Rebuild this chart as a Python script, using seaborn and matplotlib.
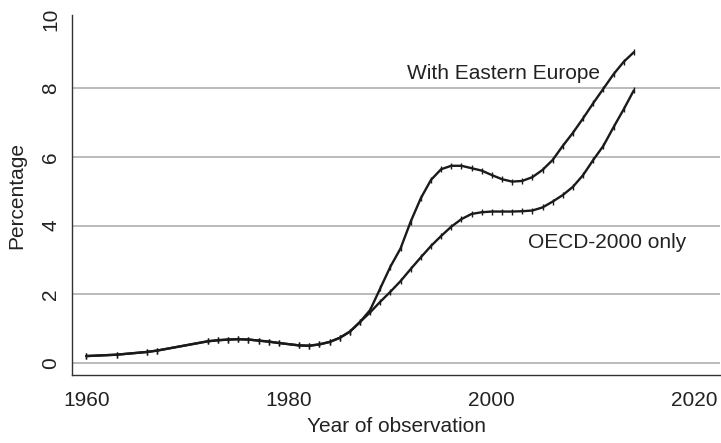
import matplotlib
matplotlib.use("Agg")
import matplotlib.pyplot as plt
import seaborn as sns
import pandas as pd

# ---- data ----
common_years = [1960, 1963, 1966, 1967, 1972, 1973, 1974, 1975, 1976, 1977, 1978,
                1979, 1981, 1982, 1983, 1984, 1985, 1986, 1987]
common_values = [0.21, 0.25, 0.33, 0.37, 0.64, 0.67, 0.69, 0.70, 0.69, 0.66, 0.63,
                 0.59, 0.52, 0.51, 0.55, 0.62, 0.74, 0.92, 1.20]

split_years = list(range(1988, 2015))
eastern_values = [1.55, 2.18, 2.81, 3.34, 4.12, 4.80, 5.33, 5.64, 5.74, 5.74, 5.67,
                  5.60, 5.47, 5.35, 5.28, 5.30, 5.41, 5.62, 5.91, 6.32, 6.70, 7.12,
                  7.56, 7.98, 8.40, 8.76, 9.04]
oecd_values = [1.48, 1.79, 2.08, 2.39, 2.74, 3.08, 3.41, 3.70, 3.97, 4.19, 4.34,
               4.39, 4.41, 4.41, 4.41, 4.42, 4.44, 4.53, 4.70, 4.89, 5.13, 5.47,
               5.91, 6.32, 6.86, 7.38, 7.93]

series_labels = ["With Eastern Europe", "OECD-2000 only"]
x_ticks = [1960, 1980, 2000, 2020]
y_ticks = [0, 2, 4, 6, 8, 10]

df = pd.concat([
    pd.DataFrame({"year": common_years + split_years,
                  "value": common_values + eastern_values,
                  "series": series_labels[0]}),
    pd.DataFrame({"year": common_years + split_years,
                  "value": common_values + oecd_values,
                  "series": series_labels[1]}),
])

sns.set_style("white")
plt.rcParams["font.family"] = ["Liberation Sans", "DejaVu Sans"]

fig = plt.figure(figsize=(7.21, 4.43), dpi=100)
ax = fig.add_axes([0.0999, 0.1535, 0.8987, 0.8125])

sns.lineplot(data=df, x="year", y="value", hue="series",
             palette=["#1a1a1a", "#1a1a1a"], marker="|", markersize=5,
             markeredgewidth=1.0, markeredgecolor="#1a1a1a",
             linewidth=1.7, legend=False, ax=ax, sort=True, estimator=None)

ax.set_xlim(1958.6, 2022.5)
ax.set_ylim(-0.34, 10.12)
ax.set_xticks(x_ticks)
ax.set_yticks(y_ticks)
ax.set_yticklabels([str(v) for v in y_ticks], rotation=90, va="center")

for v in [0, 2, 4, 6, 8]:
    ax.axhline(v, color="#a8a8a8", linewidth=1.1, zorder=0)

ax.tick_params(axis="both", labelsize=15, length=5.5, width=1.0, color="#333333",
               direction="out", labelcolor="#222222")
ax.tick_params(axis="x", length=6.5, pad=5)
ax.tick_params(axis="y", pad=3)
for side in ["top", "right"]:
    ax.spines[side].set_visible(False)
for side in ["left", "bottom"]:
    ax.spines[side].set_color("#333333")
    ax.spines[side].set_linewidth(1.0)

ax.set_xlabel("Year of observation", fontsize=15, labelpad=5, color="#222222")
ax.set_ylabel("Percentage", fontsize=15, labelpad=11, color="#222222")

ax.text(1991.65, 8.43, series_labels[0], fontsize=15, ha="left", va="center",
        color="#222222")
ax.text(2003.6, 3.51, series_labels[1], fontsize=15, ha="left", va="center",
        color="#222222")

fig.savefig("out.png", dpi=100)
